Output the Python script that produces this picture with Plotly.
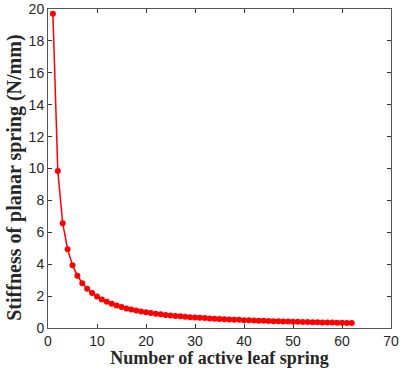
import plotly.graph_objects as go

n_leaves = list(range(1, 63))
stiffness = [19.70, 9.85, 6.57, 4.93, 3.94, 3.28, 2.81, 2.46, 2.19, 1.97,
             1.79, 1.64, 1.52, 1.41, 1.31, 1.23, 1.16, 1.09, 1.04, 0.99,
             0.94, 0.90, 0.86, 0.82, 0.79, 0.76, 0.73, 0.70, 0.68, 0.66,
             0.64, 0.62, 0.60, 0.58, 0.56, 0.55, 0.53, 0.52, 0.51, 0.49,
             0.48, 0.47, 0.46, 0.45, 0.44, 0.43, 0.42, 0.41, 0.40, 0.39,
             0.39, 0.38, 0.37, 0.36, 0.36, 0.35, 0.35, 0.34, 0.33, 0.33,
             0.32, 0.32]

x_ticks = [0, 10, 20, 30, 40, 50, 60, 70]
y_ticks = [0, 2, 4, 6, 8, 10, 12, 14, 16, 18, 20]

fig = go.Figure()
fig.add_trace(go.Scatter(
    x=n_leaves, y=stiffness, mode="lines+markers",
    line=dict(color="#ff0000", width=1.5),
    marker=dict(color="#ff0000", size=6),
    showlegend=False,
))

axis_common = dict(
    showline=True, linecolor="#555555", linewidth=1, mirror="ticks",
    ticks="inside", ticklen=4, tickcolor="#333333", tickwidth=1,
    showgrid=False, zeroline=False, automargin=False,
    tickfont=dict(family="Liberation Sans, Arial", size=14, color="#262626"),
)

fig.update_layout(
    width=404, height=368,
    margin=dict(l=48, r=13, t=9, b=40),
    paper_bgcolor="white", plot_bgcolor="white",
    xaxis=dict(range=[0, 70], tickvals=x_ticks,
               title=dict(text="<b>Number of active leaf spring</b>",
                          font=dict(family="Liberation Serif, Times New Roman", size=18, color="#262626"),
                          standoff=0),
               **axis_common),
    yaxis=dict(range=[0, 20], tickvals=y_ticks, **axis_common),
    annotations=[dict(
        text="<b>Stiffness of planar spring (N/mm)</b>",
        font=dict(family="Liberation Serif, Times New Roman", size=20, color="#262626"),
        textangle=-90, showarrow=False,
        xref="paper", yref="paper", x=-0.1, y=0.47,
        xanchor="center", yanchor="middle",
    )],
)

fig.write_html("out.html", config={"displayModeBar": False},
               post_script="document.body.style.margin='0';document.body.style.overflow='hidden';")
